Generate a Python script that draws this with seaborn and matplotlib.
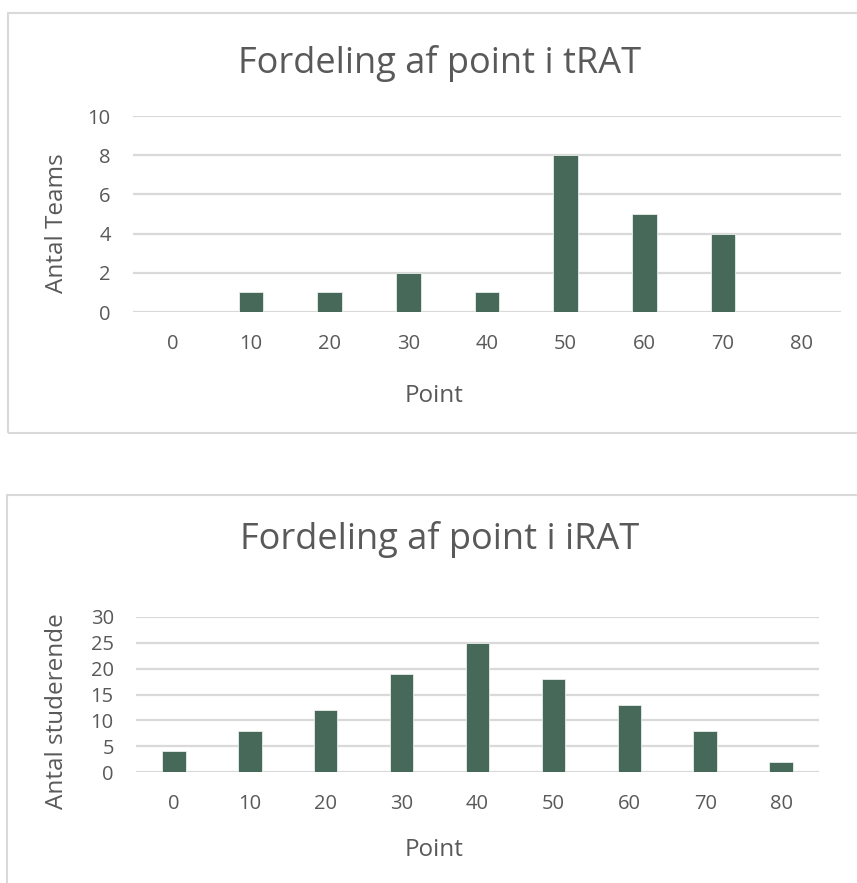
import matplotlib
matplotlib.use("Agg")
import matplotlib.pyplot as plt
from matplotlib.patches import Rectangle
import seaborn as sns
import pandas as pd

# Score buckets shared by both histograms
points = ["0", "10", "20", "30", "40", "50", "60", "70", "80"]
teams_counts = [0, 1, 1, 2, 1, 8, 5, 4, 0]
student_counts = [4, 8, 12, 19, 25, 18, 13, 8, 2]

trat_title = "Fordeling af point i tRAT"
irat_title = "Fordeling af point i iRAT"
x_label = "Point"
trat_ylabel = "Antal Teams"
irat_ylabel = "Antal studerende"
trat_yticks = [0, 2, 4, 6, 8, 10]
irat_yticks = [0, 5, 10, 15, 20, 25, 30]

sns.set_theme(style="white")
plt.rcParams["font.family"] = ["Open Sans", "DejaVu Sans"]

W, H = 857, 883
fig = plt.figure(figsize=(W / 100, H / 100), dpi=100)
fig.patch.set_facecolor("white")

TEXT = "#595959"
GRID = "#D9D9D9"
BAR = "#46695A"


def px_box(x0, y0, x1, y1):
    """Convert pixel box (top-left origin) to figure fraction [l, b, w, h]."""
    return [x0 / W, 1 - y1 / H, (x1 - x0) / W, (y1 - y0) / H]


def frame(x0, y0, x1, y1):
    l, b, w, h = px_box(x0, y0, x1, y1)
    fig.patches.append(Rectangle((l, b), w, h, transform=fig.transFigure,
                                 fill=False, edgecolor=GRID, linewidth=1.5))


def draw_panel(rect, counts, yticks, ylabel, title, title_y, xlabel_y, ylabel_xy):
    x0, y0, x1, y1 = rect
    ax = fig.add_axes(px_box(x0, y0, x1, y1))
    df = pd.DataFrame({"Point": points, "Antal": counts})
    sns.barplot(data=df, x="Point", y="Antal", color=BAR, saturation=1,
                width=0.31, edgecolor="#E8EEEB", linewidth=0.6, ax=ax, zorder=3)
    ax.set_xlim(-0.5, len(points) - 0.5)
    ax.set_ylim(yticks[0], yticks[-1])
    ax.set_yticks(yticks)
    ax.yaxis.grid(True, color=GRID, linewidth=1.6, zorder=0)
    ax.set_axisbelow(True)
    for s in ax.spines.values():
        s.set_visible(False)
    ax.tick_params(axis="both", length=0, labelsize=14.5, colors=TEXT)
    ax.tick_params(axis="x", pad=16)
    ax.tick_params(axis="y", pad=16)

    # axis titles centered on the chart frame, not on the plot area
    cx = 434
    ax.set_xlabel(x_label, fontsize=17.5, color=TEXT)
    ax.xaxis.label.set_va("center")
    ax.xaxis.set_label_coords((cx - x0) / (x1 - x0), (y1 - xlabel_y) / (y1 - y0))
    ax.set_ylabel(ylabel, fontsize=17.5, color=TEXT)
    ax.yaxis.label.set_va("center")
    lx, ly = ylabel_xy
    ax.yaxis.set_label_coords((lx - x0) / (x1 - x0), (y1 - ly) / (y1 - y0))

    fig.text(440 / W, 1 - title_y / H, title, ha="center", va="center",
             fontsize=26, color=TEXT)
    return ax


# chart frames
frame(8, 13, 860, 433)
frame(7, 495, 860, 890)

draw_panel((133, 116, 841, 312), teams_counts, trat_yticks, trat_ylabel,
           trat_title, 63, 396, (57, 223))
draw_panel((136, 617, 819, 772), student_counts, irat_yticks, irat_ylabel,
           irat_title, 540, 850, (57, 711))

fig.savefig("out.png", dpi=100, facecolor="white")
